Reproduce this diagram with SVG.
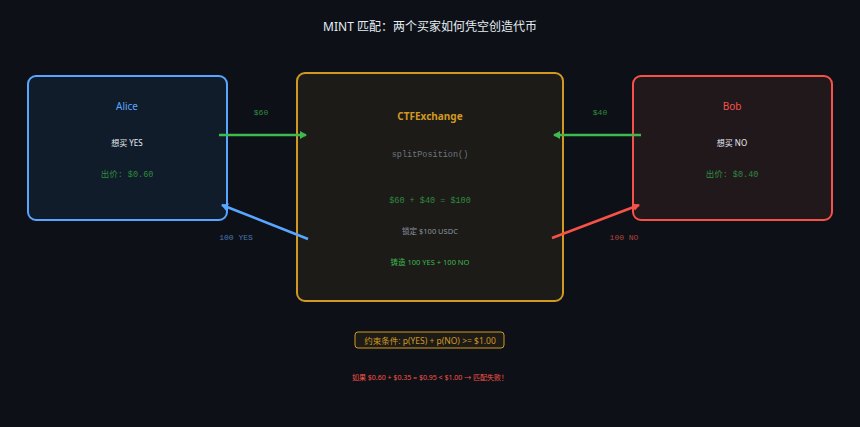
<svg xmlns="http://www.w3.org/2000/svg" width="860" height="427" viewBox="0 0 860 427">
<style>
.s{font-family:"Noto Sans","Noto Sans CJK SC",sans-serif}
.m{font-family:"Liberation Mono","Noto Sans CJK SC",monospace}
</style>
<defs>
<marker id="ag" markerWidth="8" markerHeight="8" refX="6" refY="4" orient="auto" markerUnits="userSpaceOnUse"><path d="M0,0L7,4L0,8z" fill="#3fb950"/></marker>
<marker id="ab" markerWidth="8" markerHeight="8" refX="6" refY="4" orient="auto" markerUnits="userSpaceOnUse"><path d="M0,0L7,4L0,8z" fill="#58a6ff"/></marker>
<marker id="ar" markerWidth="8" markerHeight="8" refX="6" refY="4" orient="auto" markerUnits="userSpaceOnUse"><path d="M0,0L7,4L0,8z" fill="#f85149"/></marker>
</defs>
<rect width="860" height="427" fill="#0d1117"/>
<text class="s" x="430" y="31" text-anchor="middle" font-size="12" fill="#e6edf3">MINT 匹配：两个买家如何凭空创造代币</text>
<g id="alice">
<rect x="28" y="76" width="199" height="144" rx="8" fill="#111c2a" stroke="#58a6ff" stroke-width="2"/>
<text class="s" x="127" y="110" text-anchor="middle" font-size="10" fill="#58a6ff">Alice</text>
<text class="s" x="127" y="146" text-anchor="middle" font-size="8" fill="#e6edf3">想买 YES</text>
<text class="m" x="127" y="177" text-anchor="middle" font-size="8.5" fill="#2f8a3f">出价: $0.60</text>
</g>
<g id="exchange">
<rect x="297" y="73" width="266" height="228" rx="8" fill="#1c1b18" stroke="#d29922" stroke-width="2"/>
<text class="s" x="430" y="120" text-anchor="middle" font-size="10" font-weight="bold" fill="#d29922">CTFExchange</text>
<text class="m" x="430" y="157" text-anchor="middle" font-size="8.5" fill="#6e7681">splitPosition()</text>
<text class="m" x="430" y="203" text-anchor="middle" font-size="8.5" fill="#2f8a3f">$60 + $40 = $100</text>
<text class="s" x="430" y="234" text-anchor="middle" font-size="7.5" fill="#8b949e">锁定 $100 USDC</text>
<text class="s" x="430" y="265" text-anchor="middle" font-size="7.5" fill="#3fb950">铸造 100 YES + 100 NO</text>
</g>
<g id="bob">
<rect x="633" y="76" width="199" height="144" rx="8" fill="#21181c" stroke="#f85149" stroke-width="2"/>
<text class="s" x="732" y="110" text-anchor="middle" font-size="10" fill="#f85149">Bob</text>
<text class="s" x="732" y="146" text-anchor="middle" font-size="8" fill="#e6edf3">想买 NO</text>
<text class="m" x="732" y="177" text-anchor="middle" font-size="8.5" fill="#2f8a3f">出价: $0.40</text>
</g>
<g id="connectors" stroke-width="2.5" fill="none">
<line x1="219" y1="135" x2="306" y2="135" stroke="#3fb950" marker-end="url(#ag)"/>
<line x1="641" y1="135" x2="554" y2="135" stroke="#3fb950" marker-end="url(#ag)"/>
<line x1="308" y1="239" x2="222" y2="205" stroke="#58a6ff" marker-end="url(#ab)"/>
<line x1="552" y1="238" x2="639" y2="205" stroke="#f85149" marker-end="url(#ar)"/>
</g>
<g id="labels">
<text class="m" x="261" y="115" text-anchor="middle" font-size="8" fill="#2f8a3f">$60</text>
<text class="m" x="600" y="115" text-anchor="middle" font-size="8" fill="#2f8a3f">$40</text>
<text class="m" x="236" y="240" text-anchor="middle" font-size="8" fill="#4a78b0">100 YES</text>
<text class="m" x="624" y="240" text-anchor="middle" font-size="8" fill="#b04440">100 NO</text>
</g>
<g id="constraint">
<rect x="355" y="332" width="149" height="16" rx="3" fill="#1c1b18" stroke="#d29922" stroke-width="1"/>
<text class="s" x="430" y="344" text-anchor="middle" font-size="8.5" fill="#d29922">约束条件: p(YES) + p(NO) &gt;= $1.00</text>
</g>
<text class="s" x="430" y="380" text-anchor="middle" font-size="7" fill="#f85149">如果 $0.60 + $0.35 = $0.95 &lt; $1.00 → 匹配失败！</text>
</svg>
